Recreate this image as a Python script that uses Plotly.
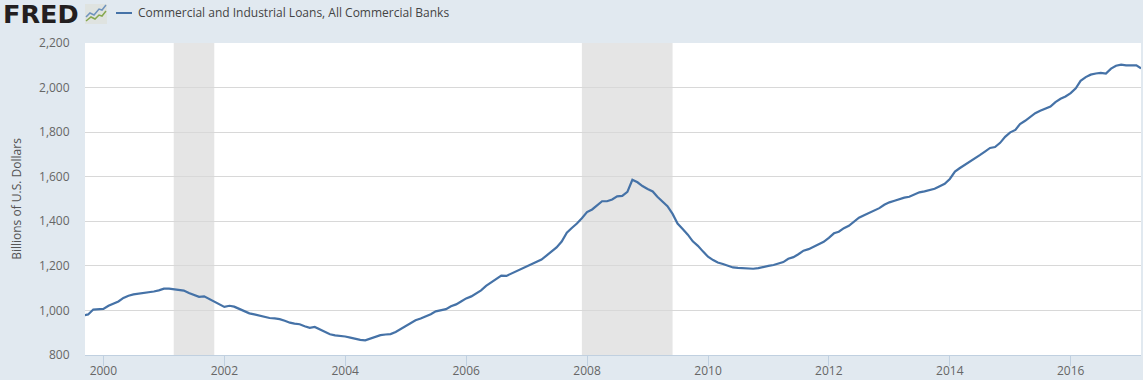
import pandas as pd
import plotly.graph_objects as go

series_name = "Commercial and Industrial Loans, All Commercial Banks"
y_title = "Billions of U.S. Dollars"
start_month = "1999-09-01"

values = [
    977, 982, 1004, 1005,
    1007, 1021, 1031, 1040, 1056, 1066, 1072, 1075, 1077, 1081, 1085, 1090,
    1098, 1098, 1096, 1093, 1089, 1078, 1069, 1061, 1063, 1051, 1038, 1028,
    1016, 1021, 1017, 1007, 997, 987, 982, 977, 970, 966, 964, 961,
    954, 945, 941, 938, 929, 922, 926, 915, 905, 893, 888, 887,
    883, 878, 873, 868, 866, 874, 883, 889, 892, 894, 903, 916,
    930, 941, 956, 964, 972, 983, 996, 1002, 1006, 1019, 1027, 1040,
    1054, 1063, 1075, 1090, 1110, 1125, 1137, 1156, 1155, 1165, 1174, 1185,
    1196, 1206, 1217, 1228, 1246, 1265, 1283, 1309, 1349, 1370, 1390, 1414,
    1441, 1453, 1473, 1490, 1490, 1498, 1512, 1514, 1532, 1586, 1575, 1558,
    1545, 1534, 1510, 1488, 1468, 1433, 1390, 1365, 1340, 1310, 1290, 1265,
    1241, 1226, 1215, 1208, 1200, 1193, 1191, 1190, 1188, 1187, 1190, 1196,
    1200, 1204, 1210, 1217, 1232, 1239, 1252, 1268, 1275, 1285, 1296, 1308,
    1326, 1346, 1353, 1369, 1380, 1400, 1416, 1427, 1437, 1448, 1459, 1474,
    1485, 1492, 1500, 1506, 1510, 1521, 1530, 1534, 1540, 1546, 1557, 1568,
    1590, 1623, 1638, 1652, 1666, 1681, 1697, 1713, 1729, 1733, 1752, 1779,
    1799, 1810, 1836, 1851, 1866, 1885, 1896, 1906, 1915, 1935, 1950, 1960,
    1975, 1997, 2030, 2047, 2058, 2063, 2066, 2063, 2085, 2098, 2103, 2100,
    2100, 2100, 2086,
]
dates = pd.date_range(start_month, periods=len(values), freq="MS")

recession_starts = ["2001-03-01", "2007-12-01"]
recession_ends = ["2001-11-01", "2009-06-01"]

BG = "#e1e9f0"
LINE = "#4572a7"
FONT = "Open Sans, DejaVu Sans, sans-serif"
W, H = 1143, 380
L, R, T, B = 85, 2, 43, 25
PW, PH = W - L - R, H - T - B


def fx(x):
    return (x - L) / PW


def fy(y):
    return (H - B - y) / PH


def poly(pts):
    return " ".join(("M" if i == 0 else "L") + f"{fx(a):.5f},{fy(b):.5f}" for i, (a, b) in enumerate(pts))


fig = go.Figure(go.Scatter(x=dates, y=values, mode="lines", name=series_name,
                           line=dict(color=LINE, width=2.2), showlegend=False,
                           hoverinfo="x+y"))

for s, e in zip(recession_starts, recession_ends):
    fig.add_vrect(x0=s, x1=e, fillcolor="rgba(0,0,0,0.1)", line_width=0, layer="below")

shapes = [
    dict(type="line", x0=fx(116), x1=fx(132), y0=fy(13), y1=fy(13), line=dict(color=LINE, width=2)),
    dict(type="rect", x0=fx(85), x1=fx(107), y0=fy(24), y1=fy(4), fillcolor="#dfe3e0", line_width=0),
    dict(type="path", path=poly([(86, 17), (90, 13), (94, 15), (99, 9), (102, 10), (106, 5)]),
         line=dict(color="#6f93bd", width=1.5)),
    dict(type="path", path=poly([(86, 21), (91, 17), (95, 19), (99, 15), (102, 16), (106, 11)]),
         line=dict(color="#86a84f", width=1.5)),
]
for s in shapes:
    fig.add_shape(xref="paper", yref="paper", **s)

fig.add_annotation(xref="paper", yref="paper", x=fx(136), y=fy(13),
                   text=series_name, showarrow=False, xanchor="left", yanchor="middle",
                   font=dict(family=FONT, size=12, color="#444444"))
fig.add_annotation(xref="paper", yref="paper", x=fx(1), y=fy(14),
                   text="<b>FRED</b>", showarrow=False, xanchor="left", yanchor="middle",
                   font=dict(family="DejaVu Sans, sans-serif", size=25.5, color="#231f20"))

fig.update_layout(
    width=W, height=H, margin=dict(l=L, r=R, t=T, b=B, autoexpand=False),
    paper_bgcolor=BG, plot_bgcolor="#ffffff",
    font=dict(family=FONT, size=12, color="#666666"),
    xaxis=dict(range=["1999-09-12", "2017-03-01"], tickformat="%Y", dtick="M24", tick0="2000-01-01",
               showgrid=False, showline=True, linecolor="#c0d0e0", linewidth=1, automargin=False,
               ticks="outside", ticklen=10, tickcolor="#c0d0e0", tickwidth=1, ticklabelstandoff=-5,
               tickfont=dict(size=12, color="#666666"), zeroline=False),
    yaxis=dict(range=[800, 2200], dtick=200, tick0=800, tickformat=",", automargin=False,
               gridcolor="#d8d8d8", gridwidth=1, showline=False, zeroline=False,
               ticks="outside", ticklen=12, tickcolor="rgba(0,0,0,0)",
               tickfont=dict(size=12, color="#666666"),
               title=dict(text=y_title, standoff=14, font=dict(size=12, color="#555555"))),
)

fig.write_html("out.html", config=dict(displayModeBar=False),
               post_script="document.body.style.margin='0';document.body.style.overflow='hidden';")
